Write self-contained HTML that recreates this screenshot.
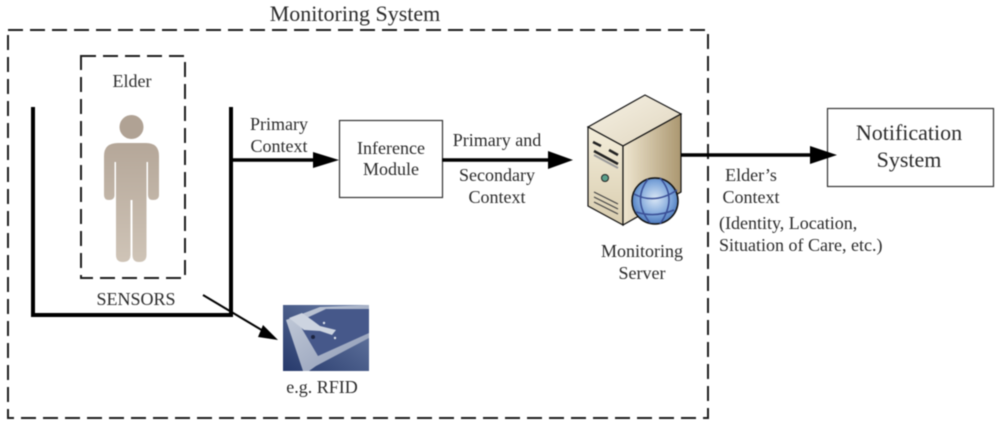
<!DOCTYPE html>
<html><head><meta charset="utf-8"><style>
html,body{margin:0;padding:0;background:#fff;width:1000px;height:426px;overflow:hidden}
svg{display:block;filter:blur(.4px)}
text{font-family:"Liberation Serif",serif;fill:#2b2b2b}
</style></head><body>
<svg width="1000" height="426" viewBox="0 0 1000 426" xmlns="http://www.w3.org/2000/svg">
<defs>
<linearGradient id="b" x1="0" y1="0" x2="0" y2="1"><stop offset="0" stop-color="#b5a799"/><stop offset="1" stop-color="#cfc4b7"/></linearGradient>
<linearGradient id="top" x1="0" y1="0" x2="1" y2="1"><stop offset="0" stop-color="#f6f1e4"/><stop offset="1" stop-color="#e0d6bf"/></linearGradient>
<linearGradient id="front" x1="0" y1="0" x2="0" y2="1"><stop offset="0" stop-color="#f3edda"/><stop offset="1" stop-color="#d9cdaf"/></linearGradient>
<linearGradient id="side" x1="0" y1="0" x2="1" y2="0"><stop offset="0" stop-color="#efe6d0"/><stop offset="1" stop-color="#ab9770"/></linearGradient>
<radialGradient id="g" cx=".5" cy=".45" r=".6"><stop offset="0" stop-color="#dbe8f6"/><stop offset=".6" stop-color="#7ea6da"/><stop offset="1" stop-color="#3d6cb4"/></radialGradient>
<linearGradient id="r" x1="0" y1="1" x2="1" y2="0"><stop offset="0" stop-color="#26396b"/><stop offset="1" stop-color="#6d80a8"/></linearGradient>
<linearGradient id="band" x1="0" y1="0" x2="1" y2="1"><stop offset="0" stop-color="#c4ccda"/><stop offset="1" stop-color="#8e9ab5"/></linearGradient>
</defs>
<rect x="8" y="30" width="700" height="388" fill="none" stroke="#1e1e1e" stroke-width="2" stroke-dasharray="15 7"/>
<rect x="81" y="56" width="104" height="222" fill="none" stroke="#1e1e1e" stroke-width="2" stroke-dasharray="15 7"/>
<text x="355" y="21" font-size="22" text-anchor="middle">Monitoring System</text>
<text x="132" y="87" font-size="18" text-anchor="middle">Elder</text>
<circle cx="131.500" cy="127" r="12" fill="#b0a294"/>
<path d="M118 143H146Q159 143 159 156V195Q159 200 153 200Q148 200 148 195V162H146.500V255Q146.500 262 139 262Q132.500 262 132.500 255V200H130.500V255Q130.500 262 123 262Q116 262 116 255V162H114.500V195Q114.500 200 109 200Q104 200 104 195V156Q104 143 118 143Z" fill="url(#b)"/>
<path d="M33 107V315H231V107" fill="none" stroke="#000" stroke-width="4"/>
<text x="136" y="305" font-size="18" text-anchor="middle">SENSORS</text>
<path d="M203 295L265 332" stroke="#000" stroke-width="2"/><path d="M278 340L258 337L263 325Z" fill="#000"/>
<path d="M231 160H316" stroke="#000" stroke-width="3.500"/><path d="M339 160L313 152V168Z" fill="#000"/>
<text x="279" y="130" font-size="18" text-anchor="middle">Primary</text>
<text x="279" y="152" font-size="18" text-anchor="middle">Context</text>
<rect x="339.500" y="120.500" width="103" height="77" fill="#fff" stroke="#333" stroke-width="1.200"/>
<text x="391" y="154" font-size="18" text-anchor="middle">Inference</text>
<text x="391" y="175" font-size="18" text-anchor="middle">Module</text>
<path d="M442 160H550" stroke="#000" stroke-width="3.500"/><path d="M573 160L548 151V169Z" fill="#000"/>
<text x="497" y="146" font-size="18" text-anchor="middle">Primary and</text>
<text x="497" y="181" font-size="18" text-anchor="middle">Secondary</text>
<text x="497" y="203" font-size="18" text-anchor="middle">Context</text>
<path d="M588 127L645 95L681 114L623 146Z" fill="url(#top)" stroke="#111" stroke-width="1.200"/>
<path d="M588 127L623 146V225L588 206Z" fill="url(#front)" stroke="#111" stroke-width="1.200"/>
<path d="M623 146L681 114V192L623 225Z" fill="url(#side)" stroke="#111" stroke-width="1.200"/>
<path d="M593 142L601 146M609 150L618 155M594 151L618 164" stroke="#222" stroke-width="2.500"/><path d="M594 155L618 168" stroke="#999" stroke-width="2"/>
<circle cx="605" cy="178" r="3.500" fill="#5aa08c" stroke="#222"/>
<path d="M594 192L618 204M594 197L618 209M594 202L618 214" stroke="#444" stroke-width="1.200"/>
<circle cx="655" cy="201" r="23" fill="url(#g)" stroke="#111" stroke-width="1.500"/>
<path d="M634 194Q655 205 677 190M636 212Q655 218 674 210M648 179Q632 200 650 223M660 178Q678 198 660 224" fill="none" stroke="#3a4f96" stroke-width="1.500"/>
<text x="642" y="257" font-size="18" text-anchor="middle">Monitoring</text>
<text x="642" y="279" font-size="18" text-anchor="middle">Server</text>
<rect x="827.500" y="108.500" width="166" height="78" fill="#fff" stroke="#333" stroke-width="1.200"/>
<path d="M681 155H812" stroke="#000" stroke-width="3.500"/><path d="M837 155L810 146V164Z" fill="#000"/>
<text x="909" y="140" font-size="22" text-anchor="middle">Notification</text>
<text x="909" y="167" font-size="22" text-anchor="middle">System</text>
<text x="751" y="181" font-size="18" text-anchor="middle">Elder’s</text>
<text x="751" y="203" font-size="18" text-anchor="middle">Context</text>
<text x="719" y="229" font-size="18">(Identity, Location,</text>
<text x="719" y="251" font-size="18">Situation of Care, etc.)</text>
<rect x="283" y="305" width="86" height="66" fill="url(#r)"/>
<path d="M286 320L320 307L369 305V338L316 366L309 371H303Z" fill="url(#band)"/>
<path d="M298 322L326 309H369V333L318 356Z" fill="#46588a"/>
<path d="M289 318L302 313L312 320L320 326L336 330L332 335L320 331L304 330Z" fill="#cdd4e0"/>
<circle cx="313" cy="337" r="2" fill="#1c2440"/><circle cx="324" cy="323" r="1.200" fill="#dfe4ec"/><circle cx="335" cy="338" r="1.200" fill="#dfe4ec"/>
<text x="322" y="393" font-size="18" text-anchor="middle">e.g. RFID</text>
</svg>
</body></html>
